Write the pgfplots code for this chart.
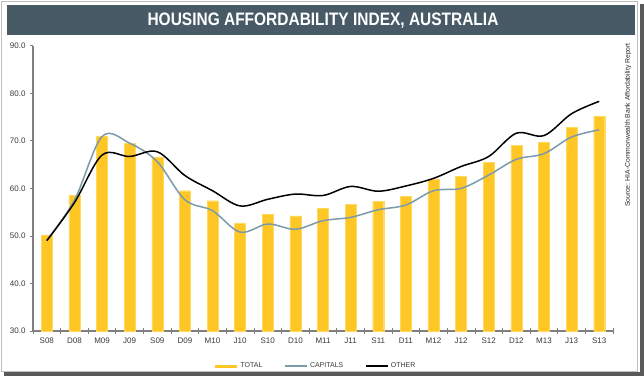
\documentclass[border=0pt]{standalone}
\usepackage{pgfplots}
\pgfplotsset{compat=1.18}
\usepackage{fontspec}
\setmainfont{Liberation Sans}
\usepackage{graphicx}
\definecolor{barY}{HTML}{FFC726}
\definecolor{barEdge}{HTML}{FFD95E}
\definecolor{capC}{HTML}{7B9BAB}
\definecolor{titleC}{HTML}{475A66}
\definecolor{axC}{HTML}{808080}
\definecolor{lblC}{HTML}{3A3A3A}
\begin{document}
\begin{tikzpicture}
\useasboundingbox (0pt,0pt) rectangle (644pt,-376pt);
\fill[white] (0pt,0pt) rectangle (644pt,-376pt);
\draw[black!25, line width=0.8pt] (1pt,-1pt) rectangle (637.5pt,-371pt);
\fill[black!65] (639.5pt,-4pt) rectangle (644pt,-376pt);
\fill[black!65] (4pt,-372pt) rectangle (644pt,-376pt);
\fill[titleC] (7pt,-5pt) rectangle (635pt,-35pt);
\node[white, font=\fontsize{18}{18}\selectfont\bfseries] at (323pt,-20.5pt) {\scalebox{0.86}[1]{HOUSING AFFORDABILITY INDEX, AUSTRALIA}};
\node[rotate=90, anchor=east, font=\fontsize{6.8}{7}\selectfont, text=black!85, inner sep=0pt] at (628pt,-43pt) {Source: HIA-Commonwealth Bank Affordability Report};
\begin{axis}[
  at={(33pt,-331pt)}, anchor=south west,
  scale only axis, width=580pt, height=285.3pt,
  xmin=-0.5, xmax=20.5, ymin=30, ymax=90,
  axis x line*=bottom, axis y line*=left,
  axis line style={axC, line width=1.2pt, -},
  xtick={0,...,20},
  xticklabels={S08,D08,M09,J09,S09,D09,M10,J10,S10,D10,M11,J11,S11,D11,M12,J12,S12,D12,M13,J13,S13},
  minor xtick={-0.5,0.5,...,20.5},
  ytick={30,40,...,90},
  tick align=outside,
  major tick length=3pt, minor tick length=6pt,
  major x tick style={draw=none},
  minor x tick style={axC, line width=0.8pt, yshift=3pt},
  major y tick style={axC, line width=0.8pt},
  /pgf/number format/assume math mode=true,
  yticklabel style={/pgf/number format/fixed, /pgf/number format/fixed zerofill, /pgf/number format/precision=1, font=\fontsize{8}{9}\selectfont, text=lblC, xshift=-1pt},
  xticklabel style={font=\fontsize{8}{9}\selectfont, text=lblC},
  legend style={at={(0.487,-0.1227)}, anchor=center, draw=none, fill=none, legend columns=-1, font=\fontsize{7}{8}\selectfont, text=lblC, /tikz/every even column/.append style={column sep=20pt}},
  clip=false,
]
\addplot[ybar, bar width=11pt, fill=barY, draw=barEdge, line width=0.4pt,
  legend image code/.code={\draw[draw=barY, line width=3pt] (0pt,0pt) -- (22pt,0pt);}]
  coordinates {(0,50.2) (1,58.6) (2,71.0) (3,69.5) (4,66.6) (5,59.5) (6,57.4) (7,52.6) (8,54.5) (9,54.2) (10,55.8) (11,56.6) (12,57.3) (13,58.3) (14,61.9) (15,62.5) (16,65.4) (17,69.0) (18,69.7) (19,72.9) (20,75.2)};
\addlegendentry{TOTAL}
\addplot[capC, line width=1.5pt, smooth, tension=0.55,
  legend image code/.code={\draw[capC, line width=1.5pt] (0pt,0pt) -- (22pt,0pt);}]
  coordinates {(0,49.1) (1,57.5) (2,70.9) (3,69.5) (4,65.6) (5,57.6) (6,55.3) (7,50.8) (8,52.5) (9,51.4) (10,53.2) (11,53.9) (12,55.5) (13,56.5) (14,59.5) (15,60.0) (16,62.8) (17,66.1) (18,67.3) (19,70.8) (20,72.3)};
\addlegendentry{CAPITALS}
\addplot[black, line width=1.5pt, smooth, tension=0.55,
  legend image code/.code={\draw[black, line width=1.5pt] (0pt,0pt) -- (22pt,0pt);}]
  coordinates {(0,49.0) (1,57.0) (2,67.0) (3,66.7) (4,67.7) (5,62.7) (6,59.5) (7,56.3) (8,57.7) (9,58.8) (10,58.5) (11,60.4) (12,59.4) (13,60.5) (14,62.1) (15,64.6) (16,66.7) (17,71.6) (18,71.1) (19,75.7) (20,78.3)};
\addlegendentry{OTHER}
\end{axis}
\end{tikzpicture}
\end{document}
